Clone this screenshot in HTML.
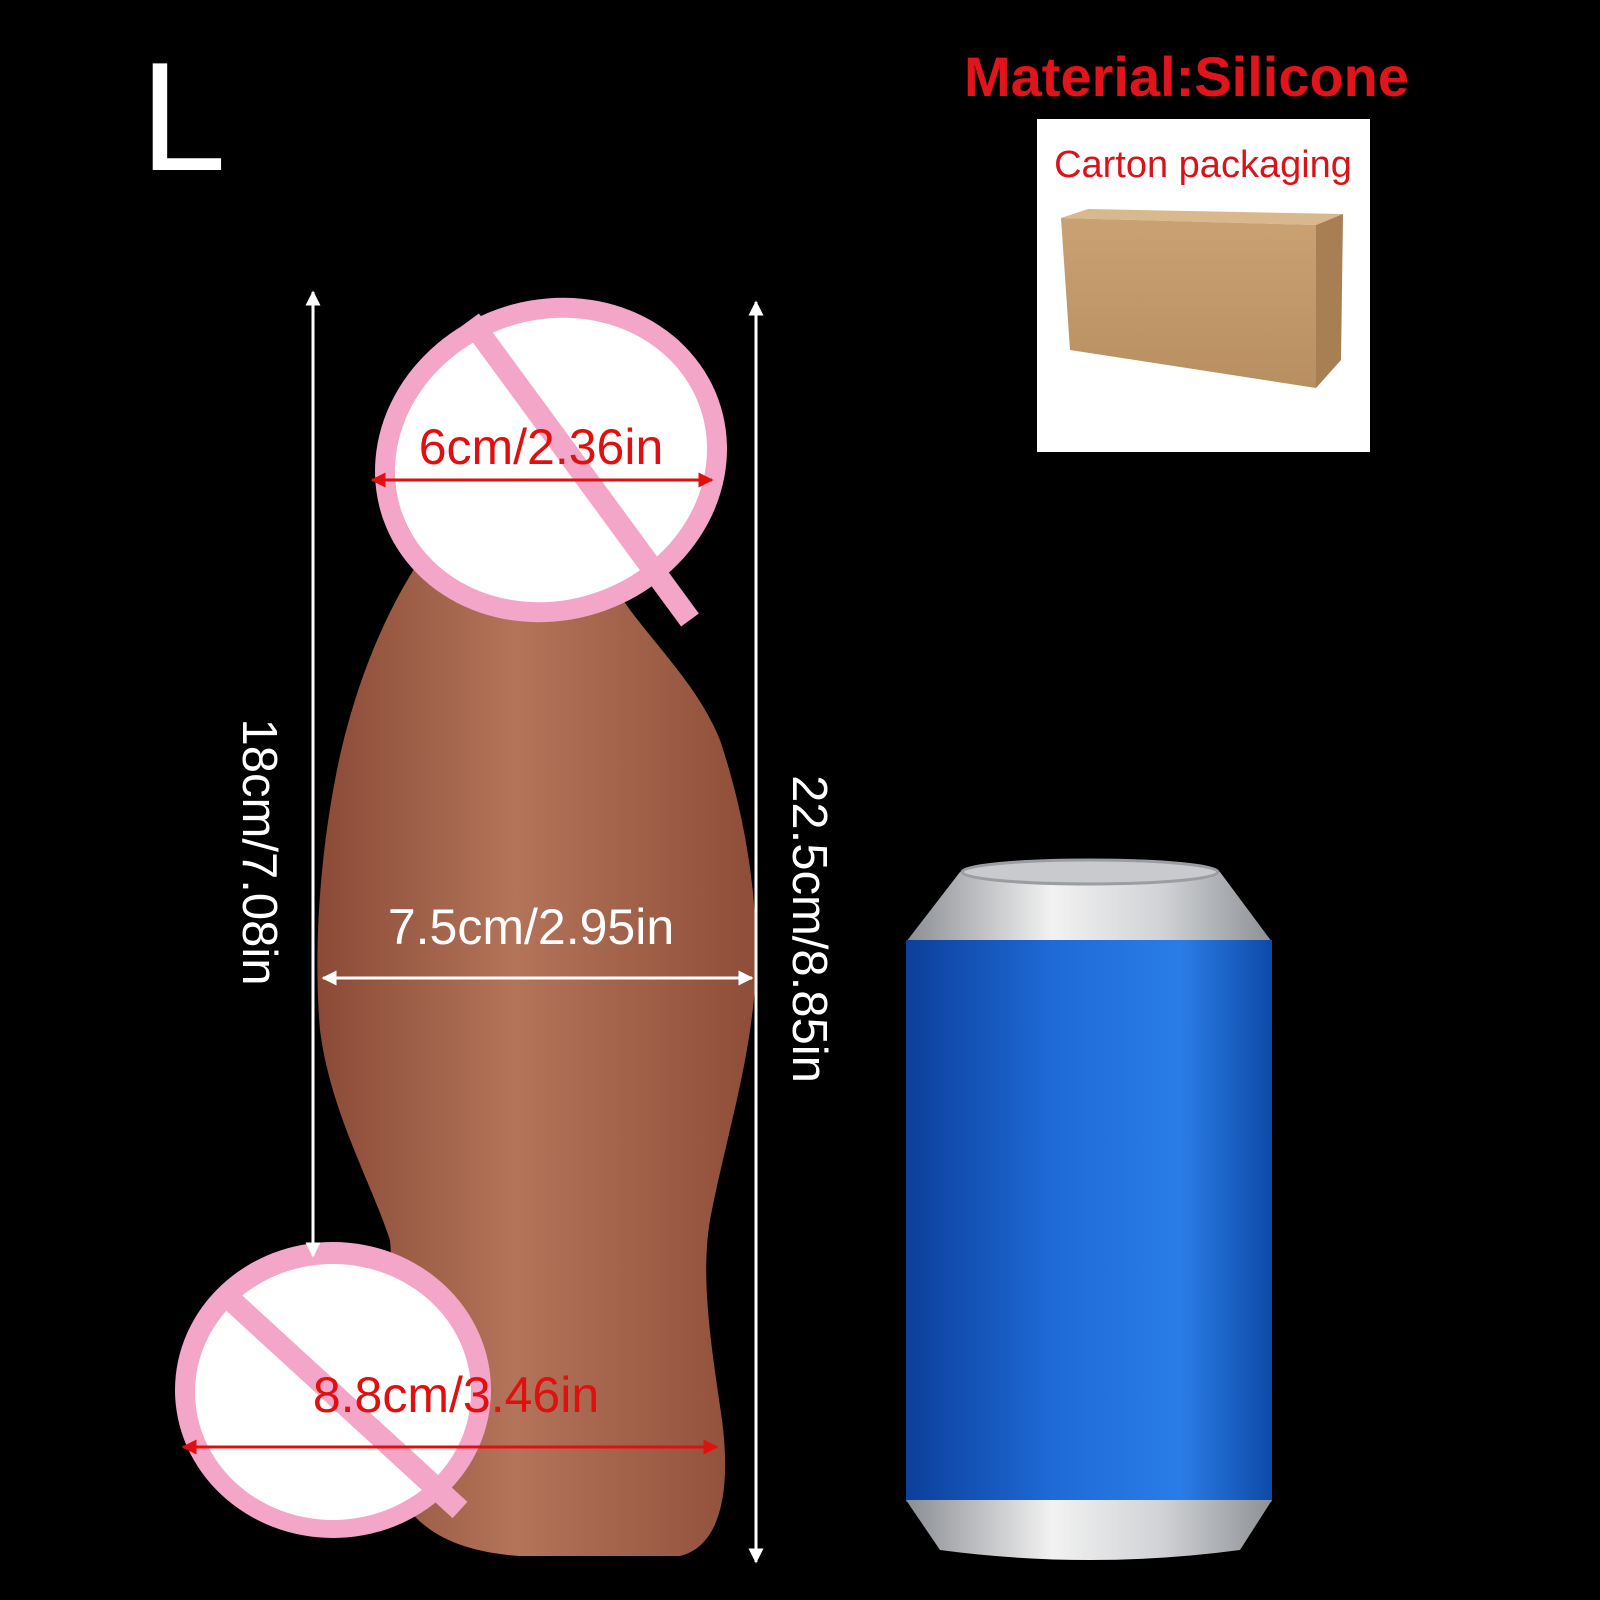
<!DOCTYPE html>
<html><head><meta charset="utf-8"><style>
html,body{margin:0;padding:0;background:#000;}
svg{display:block}
text{font-family:"Liberation Sans","DejaVu Sans",sans-serif}
</style></head><body>
<svg width="1600" height="1600" viewBox="0 0 1600 1600" xmlns="http://www.w3.org/2000/svg">
<defs>
<linearGradient id="body" x1="0" x2="1" y1="0" y2="0">
<stop offset="0" stop-color="#8a4a36"/><stop offset="0.45" stop-color="#b3745a"/><stop offset="1" stop-color="#8e4d38"/>
</linearGradient>
<linearGradient id="blue" x1="0" x2="1">
<stop offset="0" stop-color="#0c3f9a"/><stop offset="0.4" stop-color="#1e6ad6"/><stop offset="0.75" stop-color="#2a7de6"/><stop offset="1" stop-color="#0d4aa8"/>
</linearGradient>
<linearGradient id="silver" x1="0" x2="1">
<stop offset="0" stop-color="#8a8d92"/><stop offset="0.4" stop-color="#f2f2f2"/><stop offset="0.7" stop-color="#d0d2d5"/><stop offset="1" stop-color="#8d9095"/>
</linearGradient>
<linearGradient id="box" x1="0" x2="0" y1="0" y2="1">
<stop offset="0" stop-color="#c9a173"/><stop offset="1" stop-color="#b88f60"/>
</linearGradient>
<marker id="aw" viewBox="0 0 10 10" refX="9" refY="5" markerWidth="5" markerHeight="5" orient="auto-start-reverse"><path d="M0,0 L10,5 L0,10 z" fill="#fff"/></marker>
<marker id="ar" viewBox="0 0 10 10" refX="9" refY="5" markerWidth="5" markerHeight="5" orient="auto-start-reverse"><path d="M0,0 L10,5 L0,10 z" fill="#e01010"/></marker>
</defs>
<rect width="1600" height="1600" fill="#000"/>

<text x="140" y="170" fill="#fff" font-size="155">L</text>
<text x="964" y="96" fill="#e0141a" font-size="56" font-weight="bold">Material:Silicone</text>

<rect x="1037" y="119" width="333" height="333" fill="#fff"/>
<text x="1203" y="177" fill="#d8141a" font-size="38" text-anchor="middle">Carton packaging</text>
<polygon points="1061,218 1088,209 1343,214 1316,225" fill="#d8b88c"/>
<polygon points="1061,218 1316,225 1316,388 1070,350" fill="url(#box)"/>
<polygon points="1316,225 1343,214 1341,360 1316,388" fill="#a87f52"/>

<!-- body shape -->
<path d="M420,560 C380,620 350,700 335,780 C318,870 314,960 320,1030 C330,1110 370,1180 390,1240 C395,1300 385,1380 385,1440 C390,1510 430,1550 520,1556 L680,1556 C725,1545 730,1480 722,1420 C712,1350 700,1280 710,1220 C725,1140 752,1060 756,970 C758,880 740,800 720,740 C700,690 660,650 630,610 C610,580 590,560 570,550 Z" fill="url(#body)"/>

<!-- head censor -->
<g transform="rotate(-20 551 460)">
<ellipse cx="551" cy="460" rx="178" ry="160" fill="#f3a6c8"/>
<ellipse cx="551" cy="460" rx="158" ry="140" fill="#fff"/>
</g>
<line x1="470" y1="320" x2="690" y2="620" stroke="#f3a6c8" stroke-width="22"/>
<!-- bottom censor -->
<ellipse cx="333" cy="1390" rx="158" ry="148" fill="#f3a6c8"/>
<ellipse cx="333" cy="1392" rx="138" ry="128" fill="#fff"/>
<line x1="220" y1="1290" x2="460" y2="1510" stroke="#f3a6c8" stroke-width="22"/>

<!-- can -->
<path d="M960,872 Q1090,855 1220,872 L1272,942 L906,942 Z" fill="url(#silver)"/>
<ellipse cx="1090" cy="872" rx="128" ry="12" fill="#c8cacd" stroke="#9a9da2" stroke-width="3"/>
<rect x="906" y="940" width="366" height="562" fill="url(#blue)"/>
<path d="M906,1500 L1272,1500 L1240,1550 Q1090,1570 940,1550 Z" fill="url(#silver)"/>

<!-- dimension lines -->
<line x1="313" y1="292" x2="313" y2="1256" stroke="#fff" stroke-width="3" marker-start="url(#aw)" marker-end="url(#aw)"/>
<line x1="756" y1="302" x2="756" y2="1562" stroke="#fff" stroke-width="3" marker-start="url(#aw)" marker-end="url(#aw)"/>
<line x1="323" y1="978" x2="752" y2="978" stroke="#fff" stroke-width="3" marker-start="url(#aw)" marker-end="url(#aw)"/>
<line x1="372" y1="480" x2="712" y2="480" stroke="#e01010" stroke-width="3" marker-start="url(#ar)" marker-end="url(#ar)"/>
<line x1="183" y1="1447" x2="717" y2="1447" stroke="#e01010" stroke-width="3" marker-start="url(#ar)" marker-end="url(#ar)"/>

<text x="541" y="464" fill="#e01010" font-size="50" text-anchor="middle">6cm/2.36in</text>
<text x="531" y="944" fill="#fff" font-size="50" text-anchor="middle">7.5cm/2.95in</text>
<text x="456" y="1412" fill="#e01010" font-size="50" text-anchor="middle">8.8cm/3.46in</text>
<text transform="translate(243,852) rotate(90)" fill="#fff" font-size="49" text-anchor="middle">18cm/7.08in</text>
<text transform="translate(793,929) rotate(90)" fill="#fff" font-size="49" text-anchor="middle">22.5cm/8.85in</text>
</svg>
</body></html>
